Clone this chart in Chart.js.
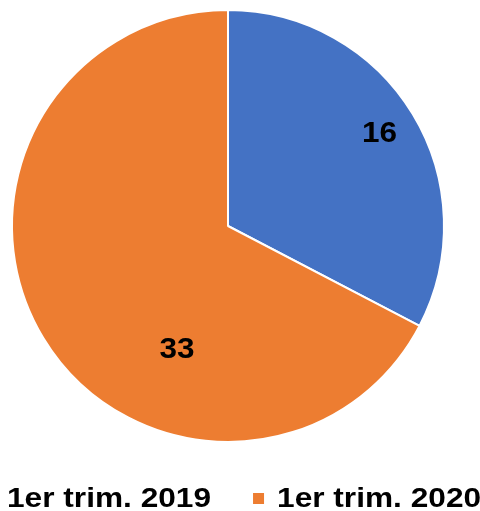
<!DOCTYPE html>
<html>
<head>
<meta charset="utf-8">
<script src="https://cdn.jsdelivr.net/npm/chart.js@4.4.1/dist/chart.umd.min.js"></script>
<style>
	html, body { margin: 0; padding: 0; background: #ffffff; overflow: hidden; }
	#quarterPie { display: block; }
</style>
</head>
<body>
<canvas id="quarterPie" width="480" height="511"></canvas>
<script>
const categories = ["1er trim. 2019", "1er trim. 2020"];
const values = [16, 33];
const sliceColors = ["#4472C4", "#ED7D31"];

const FONT = '"Liberation Sans", Arial, sans-serif';

// value labels, placed inside each slice (fraction along the arc, fraction of radius)
const sliceLabels = {
	id: "sliceLabels",
	afterDatasetsDraw(chart, args, opts) {
		const ctx = chart.ctx;
		const arcs = chart.getDatasetMeta(0).data;
		ctx.save();
		ctx.fillStyle = "#000000";
		ctx.font = `bold ${opts.size}px ${FONT}`;
		ctx.textAlign = "center";
		ctx.textBaseline = "middle";
		arcs.forEach(function (arc, i) {
			const p = arc.getProps(["x", "y", "startAngle", "endAngle", "outerRadius"], true);
			const angle = p.startAngle + (p.endAngle - p.startAngle) * opts.along[i];
			const r = p.outerRadius * opts.radial[i];
			ctx.save();
			ctx.translate(p.x + Math.cos(angle) * r, p.y + Math.sin(angle) * r);
			ctx.scale(opts.stretch, 1);
			ctx.fillText(String(values[i]), 0, 0);
			ctx.restore();
		});
		ctx.restore();
	},
};

// bottom legend, row runs past the canvas edges like in the original export
const wideLegend = {
	id: "wideLegend",
	afterDraw(chart, args, opts) {
		const ctx = chart.ctx;
		ctx.save();
		ctx.font = `bold ${opts.size}px ${FONT}`;
		ctx.textBaseline = "alphabetic";
		ctx.textAlign = "left";
		let x = opts.left;
		categories.forEach(function (label, i) {
			ctx.fillStyle = sliceColors[i];
			ctx.fillRect(x, opts.boxTop, opts.box, opts.box);
			x += opts.box + opts.gap;
			ctx.fillStyle = "#000000";
			ctx.save();
			ctx.translate(x, opts.baseline);
			ctx.scale(opts.stretch, 1);
			ctx.fillText(label, 0, 0);
			ctx.restore();
			x += ctx.measureText(label).width * opts.stretch + opts.itemGap;
		});
		ctx.restore();
	},
};

document.addEventListener("DOMContentLoaded", function () {
	const ctx = document.getElementById("quarterPie").getContext("2d");
	if (!ctx) return;

	new Chart(ctx, {
		type: "pie",
		data: {
			labels: categories,
			datasets: [
				{
					data: values,
					backgroundColor: sliceColors,
					borderColor: "#ffffff",
					borderWidth: 2,
				},
			],
		},
		options: {
			responsive: false,
			animation: false,
			layout: {
				padding: { top: 9, left: 11, right: 35, bottom: 68 },
			},
			plugins: {
				legend: { display: false },
				tooltip: { enabled: false },
				sliceLabels: {
					size: 30,
					stretch: 1.05,
					along: [0.5, 0.35],
					radial: [0.82, 0.62],
				},
				wideLegend: {
					size: 28,
					stretch: 1.13,
					left: -17,
					box: 11,
					boxTop: 493,
					gap: 13,
					itemGap: 42,
					baseline: 507,
				},
			},
		},
		plugins: [sliceLabels, wideLegend],
	});
});
</script>
</body>
</html>
